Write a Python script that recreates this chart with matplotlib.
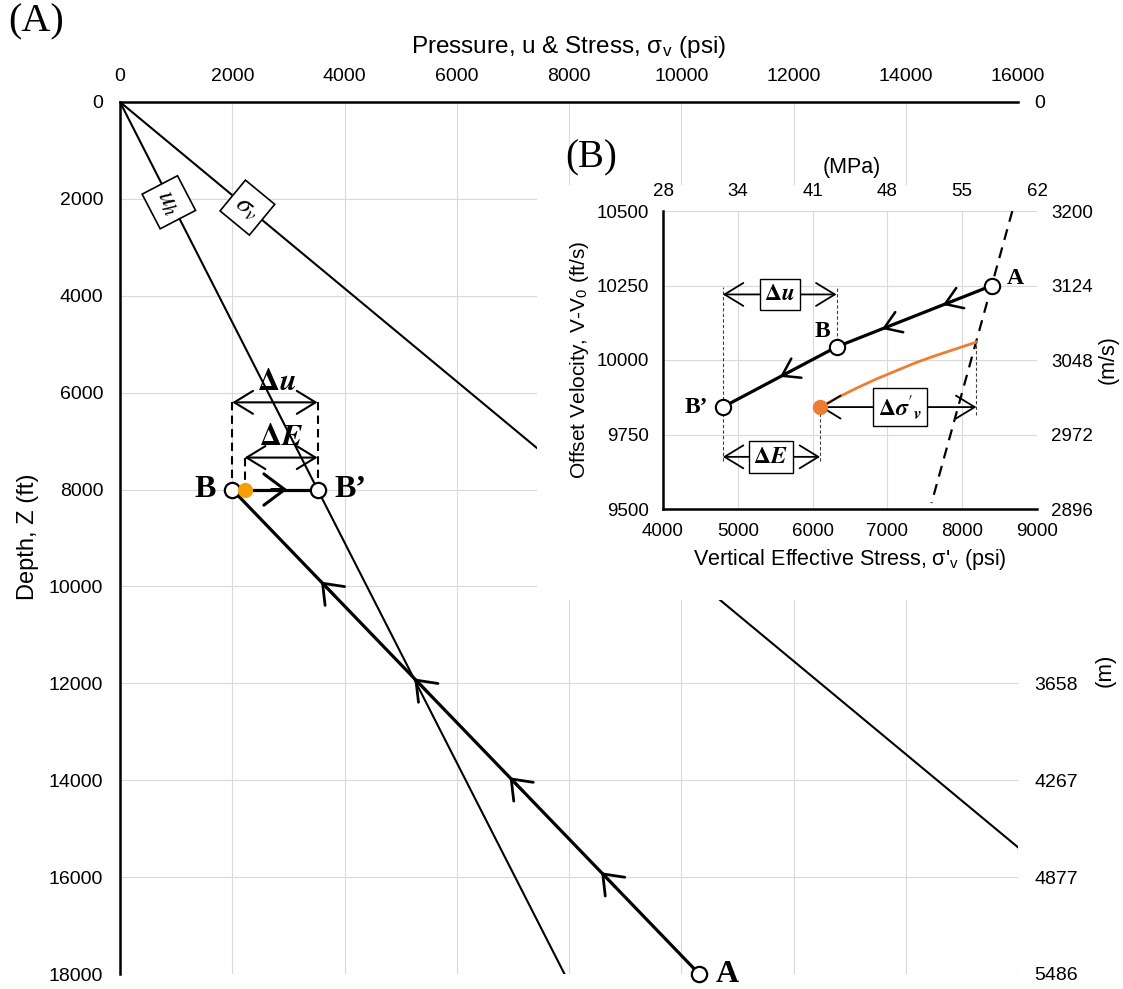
import matplotlib.pyplot as plt
import numpy as np
from matplotlib.patches import Rectangle

plt.rcParams['font.family'] = ['Liberation Sans', 'DejaVu Sans']
plt.rcParams['mathtext.fontset'] = 'stix'

# ── panel A: pressure / stress vs depth ───────────────────────────────────────
psi_ticks   = [0, 2000, 4000, 6000, 8000, 10000, 12000, 14000, 16000]
depth_ticks = [0, 2000, 4000, 6000, 8000, 10000, 12000, 14000, 16000, 18000]
# metre scale on the right (the middle of it sits behind the inset)
metre_ticks  = [0, 12000, 14000, 16000, 18000]
metre_labels = ["0", "3658", "4267", "4877", "5486"]

sv_psi,   sv_depth = [0, 18720], [0, 18000]      # overburden, sigma_v
uh_psi,   uh_depth = [0, 7920],  [0, 18000]      # hydrostatic, u_h
path_psi, path_depth = [10320, 2000], [18000, 8000]   # uplift path A -> B
arrow_depths = [9900, 11900, 13940, 15900]

B_main   = (2000, 8000)
Bp_main  = (3520, 8000)
E_main   = (2220, 8000)
du_depth = 6200
dE_depth = 7340

# ── panel B: offset velocity vs effective stress ─────────────────────────────
es_ticks   = [4000, 5000, 6000, 7000, 8000, 9000]
mpa_labels = ["28", "34", "41", "48", "55", "62"]
vel_ticks  = [9500, 9750, 10000, 10250, 10500]
ms_labels  = ["2896", "2972", "3048", "3124", "3200"]

path_es,  path_vel = [8400, 6320, 4800], [10250, 10044, 9842]
nct_es,   nct_vel  = [8670, 7590], [10500, 9520]
orng_es  = [6100, 6350, 6600, 6850, 7100, 7350, 7600, 7900, 8190]
orng_vel = [9842, 9876, 9907, 9936, 9962, 9988, 10011, 10036, 10060]
inset_arrow_es = [7743, 6928, 5564]

W, H = 1123, 989
fig = plt.figure(figsize=(W / 100, H / 100), dpi=100)


def fx(px):
    return px / W


def fy(py):
    return 1 - py / H


GRID = '#d9d9d9'
SERIF = ['Liberation Serif', 'DejaVu Serif']


def chevron(ax, tip, back, lw=2.0, hl=0.85, hw=0.65, scale=15):
    ax.annotate('', xy=tip, xytext=back,
                arrowprops=dict(arrowstyle=f'->,head_length={hl},head_width={hw}',
                                lw=lw, color='k', shrinkA=0, shrinkB=0,
                                mutation_scale=scale))


def dbl_arrow(ax, x0, x1, y, lw=1.3, hl=0.9, hw=0.55, scale=15):
    ax.annotate('', xy=(x0, y), xytext=(x1, y),
                arrowprops=dict(arrowstyle=f'<->,head_length={hl},head_width={hw}',
                                lw=lw, color='k', shrinkA=0, shrinkB=0,
                                mutation_scale=scale))


# ── main axes ────────────────────────────────────────────────────────────────
ax = fig.add_axes([fx(120), fy(974), fx(1018) - fx(120), fy(102) - fy(974)])
ax.set_xlim(0, 16000)
ax.set_ylim(18000, 0)
ax.xaxis.tick_top()
ax.set_xticks(psi_ticks)
ax.set_yticks(depth_ticks)
ax.grid(True, color=GRID, lw=0.8)
ax.tick_params(length=0, labelsize=14, pad=12)
ax.spines['right'].set_visible(False)
ax.spines['bottom'].set_visible(False)
ax.spines['top'].set_linewidth(1.8)
ax.spines['left'].set_linewidth(1.8)

axr = ax.twinx()
axr.set_ylim(18000, 0)
axr.set_yticks(metre_ticks, labels=metre_labels)
axr.tick_params(length=0, labelsize=14, pad=12)
for s in axr.spines.values():
    s.set_visible(False)

ax.plot(sv_psi, sv_depth, color='k', lw=1.5)
ax.plot(uh_psi, uh_depth, color='k', lw=1.5)
ax.plot(path_psi, path_depth, color='k', lw=2.3)
ax.plot([B_main[0], Bp_main[0]], [B_main[1], Bp_main[1]], color='k', lw=2.3)

# direction arrows along the uplift path (pointing toward B)
for d in arrow_depths:
    p = np.interp(d, path_depth[::-1], path_psi[::-1])
    pb = np.interp(d + 300, path_depth[::-1], path_psi[::-1])
    chevron(ax, (p, d), (pb, d + 300), lw=2.0)
chevron(ax, (2980, 8000), (2700, 8000), lw=2.2, hl=1.0, hw=0.75)

# dashed guides for delta-u and delta-E
ax.plot([B_main[0]] * 2, [du_depth, 8000], 'k', ls=(0, (4, 2.5)), lw=1.5)
ax.plot([Bp_main[0]] * 2, [du_depth, 8000], 'k', ls=(0, (4, 2.5)), lw=1.5)
ax.plot([E_main[0]] * 2, [dE_depth, 8000], 'k', ls=(0, (4, 2.5)), lw=1.5)
dbl_arrow(ax, B_main[0], Bp_main[0], du_depth, lw=1.5)
dbl_arrow(ax, E_main[0], Bp_main[0], dE_depth, lw=1.5)
ax.text(2780, du_depth - 430, r'$\mathbf{\Delta}\mathbfit{u}$', fontsize=22,
        ha='center', va='center')
ax.text(2870, dE_depth - 420, r'$\mathbf{\Delta}\mathbfit{E}$', fontsize=22,
        ha='center', va='center')

ax.plot(*B_main, 'o', ms=11, mfc='white', mec='k', mew=1.6, zorder=5)
ax.plot(*Bp_main, 'o', ms=11, mfc='white', mec='k', mew=1.6, zorder=5)
ax.plot(*E_main, 'o', ms=10, mfc='#f5a000', mec='#f5a000', zorder=6)
ax.plot(path_psi[0], path_depth[0], 'o', ms=11, mfc='white', mec='k', mew=1.6,
        zorder=5, clip_on=False)

ax.text(B_main[0] - 300, 8000, 'B', fontsize=23, fontweight='bold', family=SERIF,
        ha='right', va='center')
ax.text(Bp_main[0] + 300, 8000, 'B’', fontsize=23, fontweight='bold', family=SERIF,
        ha='left', va='center')
ax.text(path_psi[0] + 300, 18000, 'A', fontsize=23, fontweight='bold', family=SERIF,
        ha='left', va='center', clip_on=False)

box = dict(boxstyle='square,pad=0.25', fc='white', ec='k', lw=1.2)
ax.text(870, 2070, r'$u_h$', fontsize=20, rotation=-62.5, ha='center', va='center',
        bbox=box, rotation_mode='anchor')
ax.text(2270, 2180, r'$\sigma_v$', fontsize=20, rotation=-39.5, ha='center',
        va='center', bbox=box, rotation_mode='anchor')

fig.text(fx(569), fy(47), r'Pressure, u & Stress, σ$_\mathregular{v}$ (psi)',
         fontsize=17.5, ha='center', va='center')
fig.text(fx(28), fy(537), 'Depth, Z (ft)', fontsize=17, rotation=90,
         ha='center', va='center')
fig.text(fx(1105), fy(670), '(m)', fontsize=16, rotation=90, ha='center', va='center')
fig.text(fx(8), fy(22), '(A)', fontsize=29, family=SERIF, ha='left', va='center')

# white backing for the inset
fig.patches.append(Rectangle((fx(537), fy(600)), fx(1123) - fx(537), fy(185) - fy(600),
                             transform=fig.transFigure, fc='white', ec='none', zorder=1))

# ── inset ────────────────────────────────────────────────────────────────────
ins = fig.add_axes([fx(663), fy(509), fx(1037) - fx(663), fy(211) - fy(509)])
ins.set_zorder(2)
ins.set_xlim(4000, 9000)
ins.set_ylim(9500, 10500)
ins.set_xticks(es_ticks)
ins.set_yticks(vel_ticks)
ins.grid(True, color=GRID, lw=0.8)
ins.tick_params(length=0, labelsize=13.5, pad=10)
ins.spines['right'].set_visible(False)
ins.spines['top'].set_visible(False)
ins.spines['left'].set_linewidth(1.8)
ins.spines['bottom'].set_linewidth(1.8)

secx = ins.secondary_xaxis('top')
secx.set_xticks(es_ticks, labels=mpa_labels)
secx.tick_params(length=0, labelsize=13.5, pad=8)
secy = ins.secondary_yaxis('right')
secy.set_yticks(vel_ticks, labels=ms_labels)
secy.tick_params(length=0, labelsize=13.5, pad=10)
for sa in (secx, secy):
    for s in sa.spines.values():
        s.set_visible(False)

ins.plot(nct_es, nct_vel, color='k', lw=1.6, ls=(0, (5, 3.5)))
ins.plot(orng_es, orng_vel, color='#ed7d31', lw=2.0)
ins.plot(path_es, path_vel, color='k', lw=2.3)
for e in inset_arrow_es:
    v = np.interp(e, path_es[::-1], path_vel[::-1])
    vb = np.interp(e + 150, path_es[::-1], path_vel[::-1])
    chevron(ins, (e, v), (e + 150, vb), lw=1.8, hl=0.9, hw=0.6, scale=13)

thin = dict(color='#404040', lw=0.8, ls=(0, (3, 2)))
ins.plot([path_es[2]] * 2, [9661, 10245], **thin)
ins.plot([path_es[1]] * 2, [path_vel[1], 10245], **thin)
ins.plot([orng_es[0]] * 2, [9661, orng_vel[0]], **thin)
ins.plot([orng_es[-1]] * 2, [9815, orng_vel[-1]], **thin)

dbl_arrow(ins, path_es[2], path_es[1], 10220, lw=1.3)
dbl_arrow(ins, path_es[2], orng_es[0], 9675, lw=1.3)
dbl_arrow(ins, orng_es[0], orng_es[-1], 9842, lw=1.3)
lbox = dict(boxstyle='square,pad=0.2', fc='white', ec='k', lw=1.0)
ins.text(5560, 10220, r'$\mathbf{\Delta}\mathbfit{u}$', fontsize=17, ha='center',
         va='center', bbox=lbox)
ins.text(5440, 9675, r'$\mathbf{\Delta}\mathbfit{E}$', fontsize=17, ha='center',
         va='center', bbox=lbox)
ins.text(7170, 9842, r"$\mathbf{\Delta}\mathbfit{\sigma}'_{\mathbfit{v}}$",
         fontsize=17, ha='center', va='center', bbox=lbox)

ins.plot(path_es, path_vel, 'o', ms=11, mfc='white', mec='k', mew=1.5, zorder=5,
         ls='none')
ins.plot(orng_es[0], orng_vel[0], 'o', ms=10, mfc='#ed7d31', mec='#ed7d31', zorder=6)
ins.text(path_es[0] + 200, path_vel[0] + 25, 'A', fontsize=17, fontweight='bold',
         family=SERIF, ha='left', va='center')
ins.text(path_es[1] - 80, path_vel[1] + 50, 'B', fontsize=17, fontweight='bold',
         family=SERIF, ha='right', va='center')
ins.text(path_es[2] - 200, path_vel[2], 'B’', fontsize=17, fontweight='bold',
         family=SERIF, ha='right', va='center')

ins.set_xlabel(r"Vertical Effective Stress, σ'$_\mathregular{v}$ (psi)", fontsize=15.5,
               labelpad=5)
ins.set_ylabel(r'Offset Velocity, V-V$_\mathregular{0}$ (ft/s)', fontsize=15,
               labelpad=4)
fig.text(fx(852), fy(168), '(MPa)', fontsize=15.5, ha='center', va='center')
fig.text(fx(1108), fy(360), '(m/s)', fontsize=15.5, rotation=90, ha='center',
         va='center')
fig.text(fx(565), fy(158), '(B)', fontsize=28, family=SERIF, ha='left', va='center')

fig.savefig('out.png', dpi=100)
